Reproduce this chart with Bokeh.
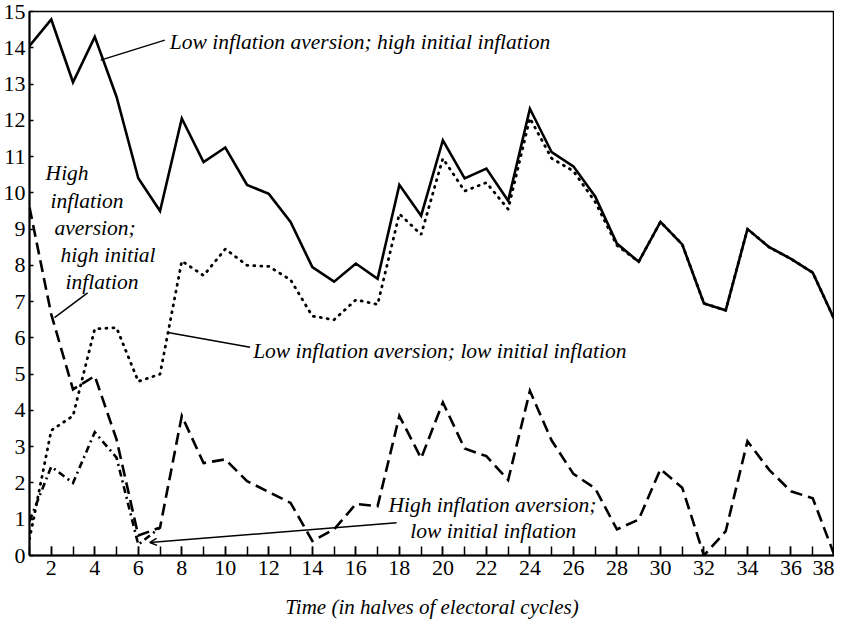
from bokeh.plotting import figure
from bokeh.models import Range1d, FixedTicker, Label, Arrow, OpenHead
from bokeh.embed import file_html
from bokeh.resources import INLINE

# ---- data ----
t = list(range(1, 39))
low_av_high_init = [14.05, 14.78, 13.05, 14.3, 12.65, 10.4, 9.5, 12.05, 10.85, 11.25,
                    10.22, 9.97, 9.2, 7.95, 7.55, 8.05, 7.63, 10.22, 9.37, 11.45,
                    10.4, 10.67, 9.78, 12.32, 11.12, 10.73, 9.9, 8.6, 8.1, 9.2,
                    8.58, 6.95, 6.76, 9.0, 8.5, 8.18, 7.8, 6.5]
low_av_low_init = [0.45, 3.45, 3.85, 6.25, 6.28, 4.8, 5.0, 8.12, 7.72, 8.45,
                   8.0, 7.97, 7.6, 6.6, 6.5, 7.05, 6.92, 9.42, 8.85, 10.95,
                   10.05, 10.28, 9.55, 12.06, 10.95, 10.6, 9.75, 8.55, 8.1, 9.2,
                   8.58, 6.95, 6.76, 9.0, 8.5, 8.18, 7.8, 6.5]
high_av_high_init = [9.6, 6.65, 4.58, 4.95, 3.2, 0.55, 0.77, 3.85, 2.55, 2.65,
                     2.05, 1.75, 1.45, 0.4, 0.72, 1.42, 1.36, 3.85, 2.68, 4.22,
                     2.95, 2.74, 2.08, 4.54, 3.17, 2.25, 1.85, 0.72, 0.99, 2.38,
                     1.87, 0.0, 0.67, 3.15, 2.36, 1.77, 1.58, 0.0]
high_av_low_init = [0.95, 2.45, 2.0, 3.4, 2.7, 0.3, 0.77, 3.85, 2.55, 2.65,
                    2.05, 1.75, 1.45, 0.4, 0.72, 1.42, 1.36, 3.85, 2.68, 4.22,
                    2.95, 2.74, 2.08, 4.54, 3.17, 2.25, 1.85, 0.72, 0.99, 2.38,
                    1.87, 0.0, 0.67, 3.15, 2.36, 1.77, 1.58, 0.0]
x_tick_labels = list(range(2, 39, 2))
y_tick_labels = list(range(0, 16))

FONT = "Liberation Serif"

p = figure(width=834, height=621, x_range=Range1d(1, 38), y_range=Range1d(0, 15),
           output_backend="svg", toolbar_location=None,
           min_border_top=11, min_border_right=0, min_border_left=0)
p.grid.visible = False
p.outline_line_color = "black"
p.outline_line_width = 1.5
p.background_fill_color = "white"
p.border_fill_color = "white"

# axes
p.xaxis.ticker = FixedTicker(ticks=x_tick_labels, minor_ticks=t)
p.yaxis.ticker = FixedTicker(ticks=y_tick_labels, minor_ticks=[])
for ax in (p.xaxis, p.yaxis):
    ax.axis_line_color = "black"
    ax.axis_line_width = 2
    ax.major_tick_line_color = "black"
    ax.major_tick_line_width = 1.5
    ax.minor_tick_line_color = "black"
    ax.minor_tick_line_width = 1.5
    ax.major_tick_out = 0
    ax.minor_tick_out = 0
    ax.major_label_text_font = FONT
    ax.major_label_text_font_size = "22px"
    ax.major_label_text_color = "black"
p.xaxis.major_tick_in = 9
p.xaxis.minor_tick_in = 9
p.yaxis.major_tick_in = 4
p.yaxis.minor_tick_in = 0
p.xaxis.major_label_standoff = 5
p.yaxis.major_label_standoff = 4
p.xaxis.axis_label = "Time (in halves of electoral cycles)"
p.xaxis.axis_label_text_font = FONT
p.xaxis.axis_label_text_font_style = "italic"
p.xaxis.axis_label_text_font_size = "21px"
p.xaxis.axis_label_text_color = "black"
p.xaxis.axis_label_standoff = 17

# series
p.line(t, low_av_high_init, line_color="black", line_width=2.6, line_join="miter")
p.line(t, high_av_high_init, line_color="black", line_width=2.6, line_dash="12 6",
       line_join="miter")
end4 = max(i for i in range(len(t)) if high_av_low_init[i] != high_av_high_init[i]) + 2
p.line(t[:end4], high_av_low_init[:end4], line_color="black", line_width=2.6,
       line_dash="7 4 2 4", line_join="miter")
p.line(t, low_av_low_init, line_color="black", line_width=2.8, line_dash="1 6",
       line_cap="round")

# annotations
def label(x, y, txt):
    p.add_layout(Label(x=x, y=y, text=txt, text_font=FONT, text_font_style="italic",
                       text_font_size="21.5px", text_color="black",
                       text_align="left", text_baseline="middle"))

def leader(x0, y0, x1, y1, head=None):
    p.add_layout(Arrow(end=head, x_start=x0, y_start=y0, x_end=x1, y_end=y1,
                       line_color="black", line_width=1.5))

label(7.45, 14.15, "Low inflation aversion; high initial inflation")
leader(4.27, 13.66, 7.22, 14.21)

label(1.74, 10.55, "High")
label(1.97, 9.78, "inflation")
label(2.15, 9.02, "aversion;")
label(2.43, 8.28, "high initial")
label(2.66, 7.55, "inflation")
leader(2.15, 6.56, 3.67, 7.24)

label(11.28, 5.63, "Low inflation aversion; low initial inflation")
leader(7.36, 6.15, 11.14, 5.74)

label(17.5, 1.39, "High inflation aversion;")
label(18.5, 0.68, "low initial inflation")
leader(17.87, 0.90, 6.53, 0.36,
       head=OpenHead(size=7, line_color="black", line_width=1.5))

open("out.html", "w").write(file_html(p, INLINE))
